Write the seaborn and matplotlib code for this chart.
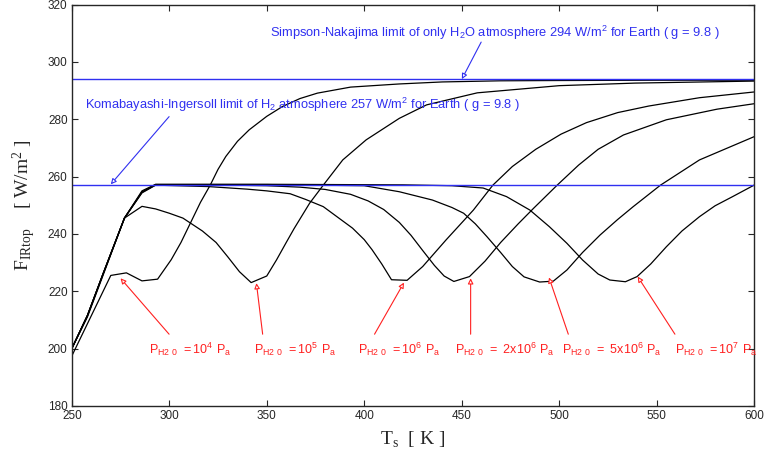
import numpy as np
import pandas as pd
import seaborn as sns
import matplotlib
matplotlib.use("Agg")
import matplotlib.pyplot as plt

# ---- data (T_s [K], F_IRtop [W/m2]) ----
t_1e4 = [250, 270, 278, 286, 294, 301, 306, 311, 316, 321, 325, 329, 335, 341, 350, 358, 367, 376, 393, 418, 440, 470, 500, 550, 600]
f_1e4 = [197.4, 225.5, 226.4, 223.6, 224.2, 231.0, 237.0, 244.0, 251.0, 257.0, 262.5, 267.0, 272.3, 276.3, 281.0, 284.4, 287.2, 289.1, 291.2, 292.3, 293.0, 293.4, 293.5, 293.6, 293.6]

t_1e5 = [250, 258, 266, 277, 286, 293, 300, 307, 317, 324, 330, 336, 342, 350, 355, 360, 364, 372, 379, 389, 401, 418, 432, 458, 500, 539, 600]
f_1e5 = [200.0, 211.0, 225.5, 245.5, 249.6, 248.7, 247.2, 245.5, 241.0, 237.0, 232.0, 226.8, 223.0, 225.3, 230.9, 237.0, 241.8, 250.7, 257.0, 265.8, 272.8, 280.3, 285.0, 289.2, 291.7, 292.6, 293.3]

t_1e6 = [250, 258, 266, 277, 286, 293, 320, 340, 350, 362, 370, 379, 386, 394, 400, 404, 409, 414, 422, 430, 442, 456, 466, 476, 488, 501, 514, 530, 546, 572, 600]
f_1e6 = [200.0, 211.5, 226.0, 245.5, 254.3, 257.0, 256.5, 255.6, 255.0, 254.0, 252.0, 249.5, 246.0, 242.0, 238.0, 234.5, 229.5, 224.0, 223.8, 228.6, 237.9, 248.3, 257.0, 263.5, 269.5, 274.8, 278.8, 282.3, 284.6, 287.5, 289.5]

t_2e6 = [250, 258, 266, 277, 286, 293, 330, 350, 367, 380, 393, 402, 410, 418, 424, 430, 436, 441, 446, 454, 462, 470, 479, 487, 499, 510, 520, 533, 555, 581, 600]
f_2e6 = [200.0, 211.5, 226.0, 245.5, 254.5, 257.1, 257.0, 256.8, 256.3, 255.5, 253.8, 251.5, 248.5, 244.0, 239.5, 234.2, 229.0, 225.3, 223.4, 225.1, 230.5, 237.0, 243.5, 249.0, 257.0, 264.0, 269.5, 274.5, 279.8, 283.5, 285.4]

t_5e6 = [250, 258, 266, 277, 286, 293, 350, 400, 418, 435, 445, 451, 457, 463, 470, 476, 482, 490, 497, 504, 512, 521, 530, 538, 552, 572, 600]
f_5e6 = [200.0, 211.5, 226.0, 245.5, 254.7, 257.2, 257.2, 256.8, 254.7, 251.8, 249.2, 247.2, 243.5, 239.0, 233.5, 228.6, 225.0, 223.2, 223.5, 227.4, 233.5, 239.6, 245.0, 249.5, 257.0, 265.8, 273.9]

t_1e7 = [250, 258, 266, 277, 286, 293, 350, 420, 445, 461, 473, 485, 495, 504, 512, 520, 526, 534, 540, 547, 555, 563, 572, 580, 589, 600]
f_1e7 = [200.0, 211.5, 226.0, 245.5, 255.0, 257.3, 257.3, 257.1, 256.8, 256.0, 253.0, 248.3, 242.5, 236.7, 230.9, 226.0, 223.9, 223.3, 225.1, 229.5, 235.5, 241.0, 246.0, 249.8, 253.0, 257.0]

curves = {"1e4": (t_1e4, f_1e4), "1e5": (t_1e5, f_1e5), "1e6": (t_1e6, f_1e6),
          "2e6": (t_2e6, f_2e6), "5e6": (t_5e6, f_5e6), "1e7": (t_1e7, f_1e7)}

# limits
sn_limit = 294
ki_limit = 257

# red labels: text, text position, arrow tail, arrow head
p_labels = [r"$\mathregular{P_{H2\ 0}\ =10^{4}\ P_a}$",
            r"$\mathregular{P_{H2\ 0}\ =10^{5}\ P_a}$",
            r"$\mathregular{P_{H2\ 0}\ =10^{6}\ P_a}$",
            r"$\mathregular{P_{H2\ 0}\ =\ 2x10^{6}\ P_a}$",
            r"$\mathregular{P_{H2\ 0}\ =\ 5x10^{6}\ P_a}$",
            r"$\mathregular{P_{H2\ 0}\ =10^{7}\ P_a}$"]
p_text_x = [289.8, 343.5, 396.7, 446.6, 501.4, 559.4]
p_tail = [(299.9, 205), (347.9, 205), (405.3, 205), (454.6, 205), (504.7, 205), (559.4, 205)]
p_head = [(275.0, 224.5), (344.7, 222.8), (420.4, 223.0), (454.6, 224.5), (494.8, 224.8), (540.3, 225.1)]

rows = []
for name, (t, f) in curves.items():
    for a, b in zip(t, f):
        rows.append((name, a, b))
df = pd.DataFrame(rows, columns=["P", "T", "F"])

sns.set_style("ticks")
plt.rcParams["font.family"] = ["Liberation Sans", "DejaVu Sans"]

fig = plt.figure(figsize=(7.64, 4.55), dpi=100)
ax = fig.add_axes([0.094, 0.108, 0.893, 0.882])

sns.lineplot(data=df, x="T", y="F", units="P", estimator=None, sort=False,
             color="black", lw=0.9, ax=ax, legend=False)

blue = "#3030f0"
red = "#ff2020"
ax.axhline(sn_limit, color=blue, lw=1.0)
ax.axhline(ki_limit, color=blue, lw=1.0)

ax.set_xlim(250, 600)
ax.set_ylim(180, 320)
ax.set_xticks(np.arange(250, 601, 50))
ax.set_yticks(np.arange(180, 321, 20))
ax.tick_params(direction="in", top=True, right=True, length=4, width=0.8,
               labelsize=8.5, pad=3)
for s in ax.spines.values():
    s.set_linewidth(1.0)

ax.set_xlabel(r"T$_\mathregular{s}$  [ K ]", family="Liberation Serif", fontsize=14)
ax.set_ylabel(r"$\mathregular{F_{IRtop}}$    [ W/m$\mathregular{^2}$ ]",
              family="Liberation Serif", fontsize=14)
ax.xaxis.set_label_coords(0.5, -0.06)
ax.yaxis.set_label_coords(-0.05, 0.5)

hollow = dict(arrowstyle="-|>", lw=0.8, mutation_scale=8, shrinkA=0, shrinkB=0)

ax.text(351.5, 310.1,
        r"Simpson-Nakajima limit of only H$\mathregular{_2}$O atmosphere 294 W/m$\mathregular{^2}$ for Earth ( g = 9.8 )",
        color=blue, fontsize=9.25, va="center", ha="left")
ax.annotate("", xy=(450.1, 294.0), xytext=(460.0, 306.9),
            arrowprops=dict(hollow, ec=blue, fc="white"))

ax.text(256.7, 285.0,
        r"Komabayashi-Ingersoll limit of H$\mathregular{_2}$ atmosphere 257 W/m$\mathregular{^2}$ for Earth ( g = 9.8 )",
        color=blue, fontsize=9.25, va="center", ha="left")
ax.annotate("", xy=(270.0, 257.3), xytext=(299.9, 280.9),
            arrowprops=dict(hollow, ec=blue, fc="white"))

for lab, tx, tail, head in zip(p_labels, p_text_x, p_tail, p_head):
    ax.text(tx, 199.8, lab, color=red, fontsize=9, va="center", ha="left")
    ax.annotate("", xy=head, xytext=tail,
                arrowprops=dict(hollow, ec=red, fc="white"))

fig.savefig("out.png", dpi=100)
